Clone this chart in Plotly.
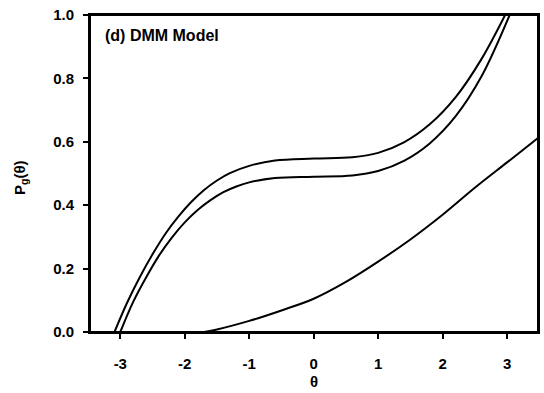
import plotly.graph_objects as go

# Data
theta_upper = [-3.09, -2.9, -2.7, -2.5, -2.3, -2.1, -1.9, -1.7, -1.5, -1.3, -1.0, -0.6, 0.0, 0.6, 1.0, 1.4, 1.8, 2.2, 2.6, 2.97]
p_upper = [0.0, 0.09, 0.172, 0.245, 0.31, 0.364, 0.41, 0.448, 0.478, 0.501, 0.524, 0.541, 0.547, 0.551, 0.565, 0.598, 0.655, 0.74, 0.86, 1.0]

theta_inner = [-3.0, -2.8, -2.6, -2.4, -2.2, -2.0, -1.8, -1.6, -1.4, -1.2, -1.0, -0.6, 0.0, 0.6, 1.0, 1.4, 1.8, 2.2, 2.6, 3.04]
p_inner = [0.0, 0.095, 0.172, 0.241, 0.298, 0.346, 0.385, 0.416, 0.441, 0.459, 0.472, 0.486, 0.49, 0.494, 0.508, 0.54, 0.595, 0.68, 0.805, 1.0]

theta_lower = [-1.70, -1.5, -1.0, -0.5, 0.0, 0.5, 1.0, 1.5, 2.0, 2.5, 3.0, 3.5]
p_lower = [0.0, 0.008, 0.035, 0.068, 0.105, 0.158, 0.222, 0.292, 0.37, 0.455, 0.535, 0.615]

x_ticks = [-3, -2, -1, 0, 1, 2, 3]
x_tick_text = ["-3", "-2", "-1", "0", "1", "2", "3"]
y_ticks = [0.0, 0.2, 0.4, 0.6, 0.8, 1.0]
y_tick_text = ["0.0", "0.2", "0.4", "0.6", "0.8", "1.0"]

FONT = "Arial, Liberation Sans, sans-serif"

W, H = 544, 393
L, R, T, B = 90, 6, 15, 61
pw, ph = W - L - R, H - T - B
bottom_px = H - B  # pixel row of the x axis
X_RANGE = [-3.47, 3.48]
Y_RANGE = [0, 1.0]

fig = go.Figure()
for xs, ys in [(theta_upper, p_upper), (theta_inner, p_inner), (theta_lower, p_lower)]:
    fig.add_trace(go.Scatter(x=xs, y=ys, mode="lines",
                             line=dict(color="black", width=2, shape="spline", smoothing=1.0),
                             showlegend=False, hoverinfo="skip"))

axis_common = dict(showline=True, linecolor="black", linewidth=2, mirror=True,
                   showgrid=False, zeroline=False, ticks="outside", ticklen=5,
                   tickwidth=2, tickcolor="black", automargin=False,
                   tickfont=dict(family=FONT, size=15, color="black", weight="bold"))

# frame-only axes on the top and right sides (no ticks, no labels)
frame_axis = dict(showline=True, linecolor="black", linewidth=2, showgrid=False,
                  zeroline=False, ticks="", showticklabels=False, automargin=False)

fig.update_layout(
    width=W, height=H,
    margin=dict(l=L, r=R, t=T, b=B),
    paper_bgcolor="white", plot_bgcolor="white",
    xaxis=dict(range=X_RANGE, tickvals=x_ticks, ticktext=x_tick_text,
               ticklabelstandoff=12, **axis_common),
    yaxis=dict(range=Y_RANGE, tickvals=y_ticks, ticktext=y_tick_text,
               ticklabelstandoff=6, **axis_common),
    xaxis2=dict(range=X_RANGE, overlaying="x", side="top", anchor="y", **frame_axis),
    yaxis2=dict(range=Y_RANGE, overlaying="y", side="right", anchor="x", **frame_axis),
    shapes=[
        dict(type="rect", xref="paper", yref="paper", x0=0, x1=1, y0=0, y1=1,
             line=dict(color="black", width=2), fillcolor="rgba(0,0,0,0)", layer="above"),
    ],
    annotations=[
        dict(text="<b>(d) DMM Model</b>", x=(103 - L) / pw, y=(bottom_px - 35) / ph,
             xref="paper", yref="paper", xanchor="left", yanchor="middle", showarrow=False,
             font=dict(family=FONT, size=16, color="black")),
        dict(text="<b>θ</b>", x=0.0, xref="x", y=-(381 - bottom_px) / ph, yref="paper",
             xanchor="center", yanchor="middle", showarrow=False,
             font=dict(family=FONT, size=15, color="black")),
        dict(text="<b>P<sub>g</sub>(θ)</b>", x=-(L - 20) / pw, xref="paper",
             y=(bottom_px - 178) / ph, yref="paper", xanchor="center", yanchor="middle",
             showarrow=False, textangle=-90,
             font=dict(family=FONT, size=15, color="black")),
    ],
)

# an invisible trace bound to the frame axes so they are drawn
fig.add_trace(go.Scatter(x=[X_RANGE[0]], y=[Y_RANGE[0]], xaxis="x2", yaxis="y2",
                         mode="markers", marker=dict(opacity=0), showlegend=False,
                         hoverinfo="skip"))

fig.write_html("out.html", config={"displayModeBar": False},
               post_script="document.body.style.margin='0';document.body.style.overflow='hidden';")
